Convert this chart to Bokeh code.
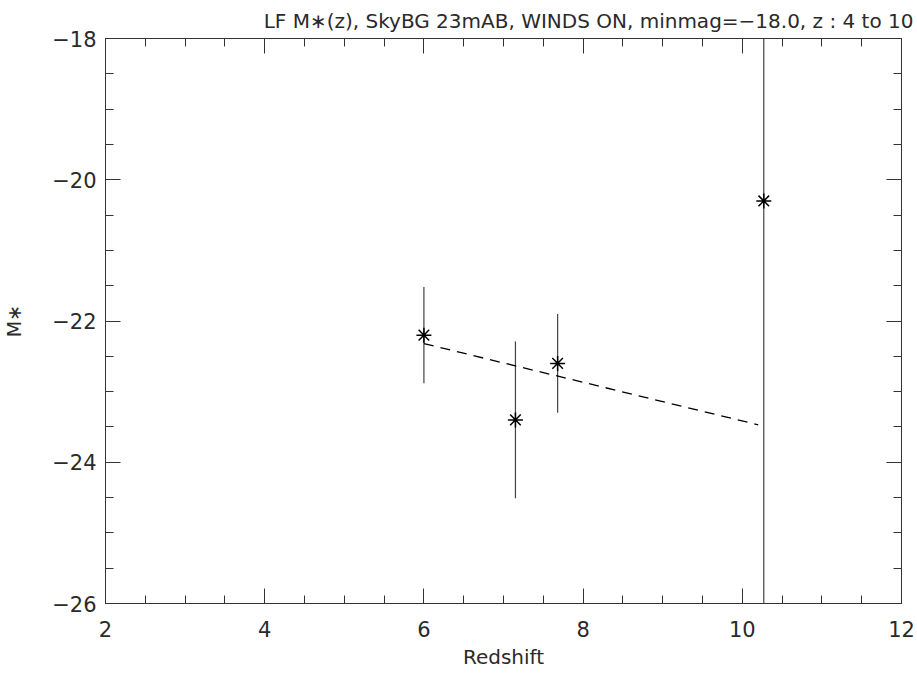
import numpy as np
from bokeh.plotting import figure
from bokeh.models import LinearAxis, FixedTicker, Range1d, Title
from bokeh.embed import file_html
from bokeh.resources import INLINE

# data
redshift = [6.0, 7.15, 7.68, 10.27]
mstar = [-22.2, -23.4, -22.6, -20.3]
mstar_err = [0.68, 1.11, 0.70, 9.0]
fit_z = [6.0, 10.2]
fit_m = [-22.32, -23.47]

x_ticks = [2, 4, 6, 8, 10, 12]
x_labels = ["2", "4", "6", "8", "10", "12"]
y_ticks = [-26, -24, -22, -20, -18]
y_labels = ["\u221226", "\u221224", "\u221222", "\u221220", "\u221218"]
x_minor = [2 + 0.5 * i for i in range(21)]
y_minor = [-26 + 0.5 * i for i in range(17)]

title_text = "LF M\u2217(z), SkyBG 23mAB, WINDS ON, minmag=\u221218.0, z : 4 to 10"

FONT = "DejaVu Sans"
TXT = "#2a2a2a"

p = figure(frame_width=796, frame_height=565, output_backend="svg", toolbar_location=None,
           x_range=Range1d(2, 12), y_range=Range1d(-26, -18),
           x_axis_type=None, y_axis_type=None,
           min_border_left=96, min_border_right=14, min_border_top=0, min_border_bottom=55)
p.grid.visible = False
p.outline_line_color = "#333333"
p.background_fill_color = "white"
p.border_fill_color = "white"


def style_axis(ax, ticks, labels, minor, show_labels):
    ax.ticker = FixedTicker(ticks=ticks, minor_ticks=minor)
    ax.major_tick_in = 15
    ax.major_tick_out = 0
    ax.minor_tick_in = 8
    ax.minor_tick_out = 0
    ax.axis_line_color = "#333333"
    ax.major_tick_line_color = "#333333"
    ax.minor_tick_line_color = "#333333"
    ax.major_label_text_font = FONT
    ax.major_label_text_font_size = "21px"
    ax.major_label_text_color = TXT
    if show_labels:
        ax.major_label_overrides = {t: l for t, l in zip(ticks, labels)}
    else:
        ax.major_label_overrides = {t: "" for t in ticks}
        ax.major_label_standoff = 0
        ax.major_label_text_font_size = "0px"


xb = LinearAxis(axis_label="Redshift")
style_axis(xb, x_ticks, x_labels, x_minor, True)
xb.major_label_standoff = 17
xb.axis_label_standoff = 5
xb.axis_label_text_font = FONT
xb.axis_label_text_font_size = "20px"
xb.axis_label_text_font_style = "normal"
xb.axis_label_text_color = TXT
p.add_layout(xb, "below")

yl = LinearAxis(axis_label="M\u2217")
style_axis(yl, y_ticks, y_labels, y_minor, True)
yl.major_label_standoff = 9
yl.axis_label_standoff = 24
yl.axis_label_text_font = FONT
yl.axis_label_text_font_size = "19px"
yl.axis_label_text_font_style = "normal"
yl.axis_label_text_color = TXT
p.add_layout(yl, "left")

xt = LinearAxis()
style_axis(xt, x_ticks, x_labels, x_minor, False)
p.add_layout(xt, "above")

yr = LinearAxis()
style_axis(yr, y_ticks, y_labels, y_minor, False)
p.add_layout(yr, "right")

p.add_layout(Title(text=title_text, align="right", offset=-12, standoff=12,
                   text_font=FONT, text_font_size="20px", text_font_style="normal",
                   text_color=TXT), "above")

z = np.array(redshift)
m = np.array(mstar)
e = np.array(mstar_err)
p.segment(x0=z, y0=m - e, x1=z, y1=m + e, line_color="#444444", line_width=1.2)
p.line(fit_z, fit_m, line_color="black", line_width=1.3, line_dash="10 7")
p.scatter(z, m, marker="asterisk", size=15, line_color="black", line_width=1.5)

open("out.html", "w").write(file_html(p, INLINE))
